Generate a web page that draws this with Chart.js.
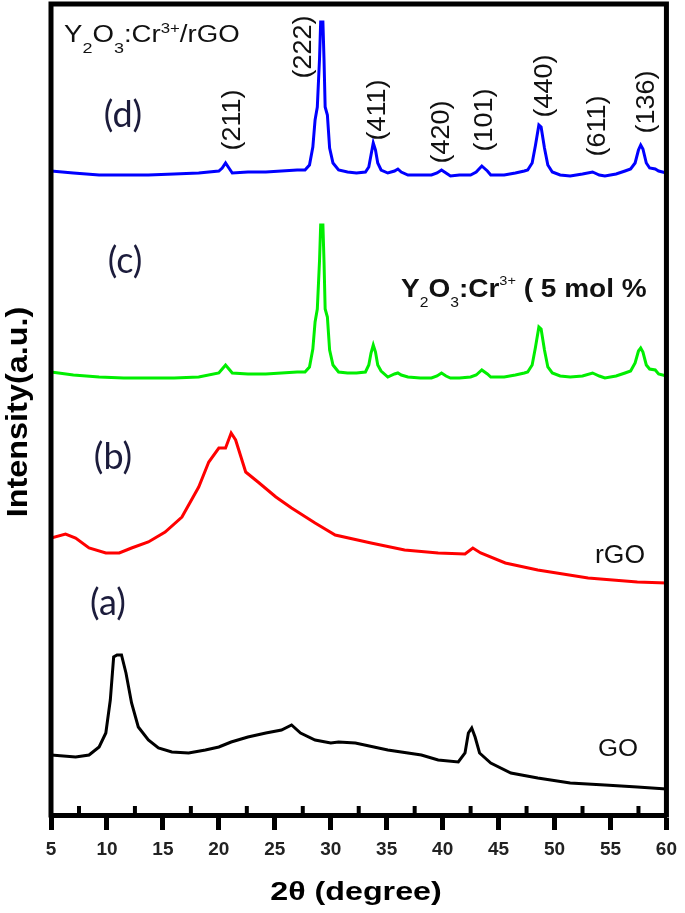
<!DOCTYPE html>
<html><head><meta charset="utf-8">
<script src="https://cdn.jsdelivr.net/npm/chart.js@4.4.1/dist/chart.umd.min.js"></script>
<style>html,body{margin:0;padding:0;background:#fff}#wrap{width:685px;height:913px;position:relative}</style>
</head><body><div id="wrap"><canvas id="c" width="685" height="913"></canvas></div>
<script>
// ---- data (2θ in degrees, intensity in arbitrary stacked units) ----
const goX  = [5, 7.2, 8.4, 9.3, 9.9, 10.3, 10.6, 10.9, 11.3, 11.7, 12.2, 12.8, 13.7, 14.6, 15.8, 17.3, 18.8, 20.0, 21.1, 22.6, 24.2, 25.6, 26.5, 27.3, 28.6, 30.0, 30.7, 32.2, 35.1, 38.1, 39.6, 41.4, 42.0, 42.3, 42.6, 42.9, 43.3, 44.3, 46.1, 48.5, 51.4, 54.5, 57.4, 60];
const goY  = [60, 58, 60, 68, 82, 115, 158, 160, 160, 142, 112, 88, 75, 67, 63, 62, 65, 68, 73, 78, 82, 85, 90, 82, 75, 72, 73, 72, 65, 60, 55, 53, 62, 82, 87, 78, 62, 52, 42, 37, 32, 30, 28, 26];
const rgoX = [5, 6.3, 7.2, 8.4, 9.9, 11.1, 12.2, 13.7, 15.2, 16.7, 18.2, 19.1, 20.0, 20.6, 21.1, 21.5, 22.4, 23.5, 25.1, 26.5, 28.6, 30.4, 33.6, 36.6, 39.6, 42.0, 42.7, 43.4, 45.6, 48.5, 53.0, 57.4, 60];
const rgoY = [277, 281, 277, 267, 262, 262, 267, 273, 283, 298, 328, 353, 367, 367, 382, 375, 343, 333, 318, 307, 292, 280, 272, 265, 262, 261, 267, 262, 252, 245, 237, 233, 232];
const xrdX = [5, 7, 9.3, 11.5, 13.7, 16, 18.2, 20.0, 20.3, 20.6, 20.9, 21.2, 22.6, 24.2, 25.6, 27.0, 27.7, 28.1, 28.4, 28.6, 28.8, 29.0, 29.1, 29.3, 29.4, 29.5, 29.7, 29.9, 30.2, 30.7, 31.5, 32.3, 33.1, 33.4, 33.6, 33.8, 34.0, 34.2, 34.5, 35.1, 35.7, 36.0, 36.3, 36.9, 38.0, 39.0, 39.5, 39.9, 40.3, 40.7, 41.5, 42.5, 43.0, 43.5, 44.0, 44.3, 45.5, 46.5, 47.3, 47.6, 48.0, 48.3, 48.6, 48.8, 49.1, 49.4, 49.8, 50.5, 51.4, 52.5, 53.4, 54.0, 54.5, 55.5, 56.3, 56.8, 57.2, 57.5, 57.7, 57.9, 58.2, 58.5, 59.0, 59.3, 60];
const yoY  = [443,440,438,437,437,437,438,442,446,450, 446,442,441,441,442,443,443,448,466,493, 506,555,590,590,553,506,498,465,450,443, 442,442,443,450,462,470,463,450,444,438, 441,442,440,438,437,437,439,442,439,437, 437,438,440,445,441,438,438,440,442,443, 450,468,488,486,465,448,442,439,438,439, 442,439,437,439,442,444,452,464,467,463, 450,446,445,441,439];
const yorY = [644,642,640,640,640,641,642,644,647,652, 647,642,643,643,644,645,645,650,668,695, 708,757,793,793,755,708,700,667,652,645, 643,642,643,648,660,672,665,652,645,642, 644,646,643,640,640,640,642,645,642,639, 640,640,643,649,644,640,640,642,644,645, 652,670,690,688,667,650,643,640,639,641, 643,640,639,641,644,646,652,665,670,666, 652,647,646,644,642];
const xTicks = [5, 10, 15, 20, 25, 30, 35, 40, 45, 50, 55, 60];
const minorTicks = [7.5, 12.5, 17.5, 22.5, 27.5, 32.5, 37.5, 42.5, 47.5, 52.5, 57.5];
const millerLabels = ['(211)', '(222)', '(411)', '(420)', '(101)', '(440)', '(611)', '(136)'];
const panelLabels = ['(a)', '(b)', '(c)', '(d)'];

// ---- layout (annotation placement, pixels) ----
const millerPos = [[233,120],[304,47],[378,110],[442,132],[485,120],[545,86],[598,126],[647,102]];
const panelPos  = [[108,603],[113,457],[125,261],[123,115]];

function pts(xs, ys){ return xs.map((x,i)=>({x:x, y:ys[i]})); }

function richText(ctx, parts, x, y, sx, color){
  ctx.save(); ctx.translate(x, y); ctx.scale(sx, 1);
  ctx.fillStyle = color; ctx.textBaseline = 'alphabetic'; ctx.textAlign = 'left';
  let cx = 0;
  for (const p of parts){ ctx.font = p.f; ctx.fillText(p.t, cx, p.dy || 0); cx += ctx.measureText(p.t).width; }
  ctx.restore();
}

const deco = {
  id: 'deco',
  afterDraw(chart){
    const ctx = chart.ctx, a = chart.chartArea, xs = chart.scales.x;
    ctx.save();
    ctx.strokeStyle = '#000'; ctx.lineWidth = 5; ctx.lineCap = 'square';
    ctx.beginPath(); ctx.moveTo(a.left, a.bottom); ctx.lineTo(a.left, a.top);
    ctx.lineTo(a.right, a.top); ctx.lineTo(a.right, a.bottom); ctx.stroke();
    ctx.lineCap = 'butt'; ctx.lineWidth = 4;
    minorTicks.forEach(v => { const px = xs.getPixelForValue(v);
      ctx.beginPath(); ctx.moveTo(px, a.bottom); ctx.lineTo(px, a.bottom - 9); ctx.stroke(); });

    ctx.fillStyle = '#111';
    millerLabels.forEach((t, i) => {
      const [cx, cy] = millerPos[i];
      ctx.save(); ctx.translate(cx, cy); ctx.rotate(-Math.PI/2); ctx.scale(1.08, 1);
      ctx.font = '25px "Liberation Sans", Arial, sans-serif';
      ctx.textAlign = 'center'; ctx.textBaseline = 'middle'; ctx.fillText(t, 0, 0);
      ctx.restore();
    });
    panelLabels.forEach((t, i) => {
      const [cx, cy] = panelPos[i];
      ctx.save(); ctx.font = '36px Lato, "Open Sans", sans-serif'; ctx.fillStyle = '#1c1c3c';
      ctx.textAlign = 'center'; ctx.textBaseline = 'middle'; ctx.fillText(t, cx, cy); ctx.restore();
    });
    const R = '"Liberation Sans", Arial, sans-serif';
    richText(ctx, [
      {t:'Y', f:'23px '+R}, {t:'2', f:'15px '+R, dy:11}, {t:'O', f:'23px '+R}, {t:'3', f:'15px '+R, dy:11},
      {t:':Cr', f:'23px '+R}, {t:'3+', f:'14px '+R, dy:-9}, {t:'/rGO', f:'23px '+R}
    ], 64, 42, 1.2, '#111');
    richText(ctx, [
      {t:'Y', f:'bold 25px '+R}, {t:'2', f:'14px '+R, dy:10}, {t:'O', f:'bold 25px '+R}, {t:'3', f:'14px '+R, dy:10},
      {t:':Cr', f:'bold 25px '+R}, {t:'3+', f:'13px '+R, dy:-12}, {t:' ( 5 mol %', f:'bold 25px '+R}
    ], 401, 297, 1.12, '#111');
    richText(ctx, [{t:'rGO', f:'25px '+R}], 595, 563, 1.06, '#111');
    richText(ctx, [{t:'GO', f:'23px '+R}], 598, 756, 1.12, '#111');

    ctx.save(); ctx.translate(27, 412); ctx.rotate(-Math.PI/2); ctx.scale(1.08, 1);
    ctx.font = 'bold 30px '+R; ctx.fillStyle = '#000'; ctx.textAlign = 'center'; ctx.textBaseline = 'alphabetic';
    ctx.fillText('Intensity(a.u.)', 0, 0); ctx.restore();
    ctx.save(); ctx.translate(356, 900); ctx.scale(1.24, 1);
    ctx.font = 'bold 26px '+R; ctx.fillStyle = '#000'; ctx.textAlign = 'center'; ctx.textBaseline = 'alphabetic';
    ctx.fillText('2θ (degree)', 0, 0); ctx.restore();
    ctx.restore();
  }
};

const mk = (label, xs, ys, color) => ({ label, data: pts(xs, ys), borderColor: color, backgroundColor: color,
  borderWidth: 3, pointRadius: 0, tension: 0, fill: false });

new Chart(document.getElementById('c'), {
  type: 'line',
  data: { datasets: [
    mk('GO', goX, goY, '#000000'),
    mk('rGO', rgoX, rgoY, '#ff0000'),
    mk('Y2O3:Cr3+ (5 mol %)', xrdX, yoY, '#00ee00'),
    mk('Y2O3:Cr3+/rGO', xrdX, yorY, '#0000ff')
  ]},
  options: {
    responsive: false, animation: false, events: [], devicePixelRatio: 1,
    layout: { padding: { left: 51, right: 15, top: 4, bottom: 0 } },
    plugins: { legend: { display: false }, tooltip: { enabled: false } },
    scales: {
      x: { type: 'linear', min: 5, max: 60,
        afterBuildTicks(s){ s.ticks = xTicks.map(v => ({value: v})); },
        afterFit(s){ s.height = 98; },
        grid: { drawOnChartArea: false, drawTicks: true, tickLength: 15, tickWidth: 5, tickColor: '#000' },
        border: { display: true, width: 5, color: '#000' },
        ticks: { autoSkip: false, maxRotation: 0, padding: 8, color: '#222',
          font: { family: '"Liberation Sans", Arial, sans-serif', size: 19, weight: 'bold' } } },
      y: { type: 'linear', min: 0, max: 811, display: false }
    }
  },
  plugins: [deco]
});
</script></body></html>
